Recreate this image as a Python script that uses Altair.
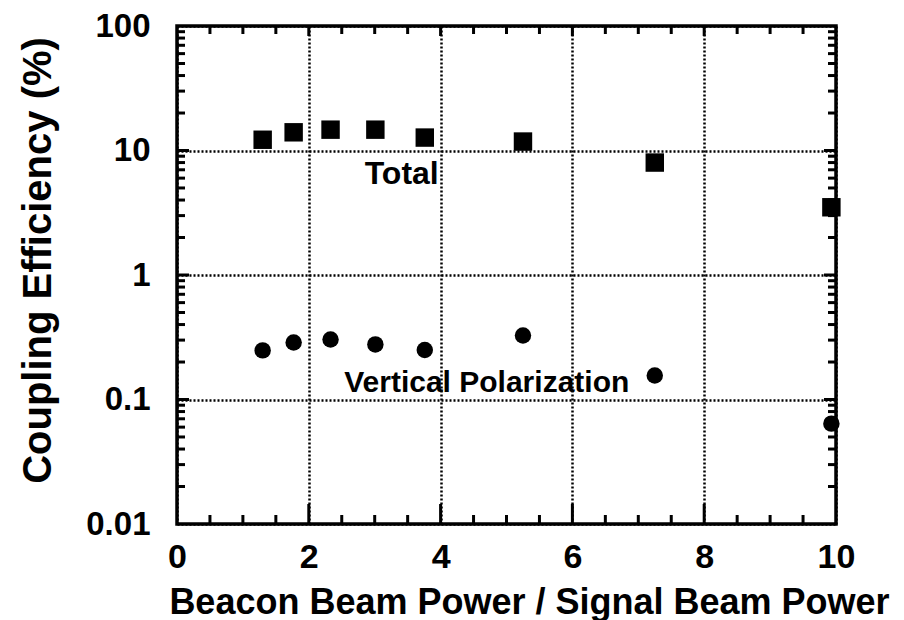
import altair as alt
import pandas as pd

# ---- data ----
ratio = [1.30, 1.77, 2.33, 3.01, 3.76, 5.25, 7.25, 9.93]
total = [12.2, 14.0, 14.7, 14.7, 12.7, 11.8, 8.0, 3.5]
vertical = [0.248, 0.287, 0.303, 0.277, 0.250, 0.327, 0.156, 0.064]

x_labels = [0, 2, 4, 6, 8, 10]
y_labels = [0.01, 0.1, 1, 10, 100]
x_major = [2, 4, 6, 8]
x_minor = [0.5, 1, 1.5, 2.5, 3, 3.5, 4.5, 5, 5.5, 6.5, 7, 7.5, 8.5, 9, 9.5]
y_major = [0.1, 1, 10]
y_minor = [0.02, 0.03, 0.04, 0.05, 0.06, 0.07, 0.08, 0.09,
           0.2, 0.3, 0.4, 0.5, 0.6, 0.7, 0.8, 0.9,
           2, 3, 4, 5, 6, 7, 8, 9,
           20, 30, 40, 50, 60, 70, 80, 90]

ann_text = ["Total", "Vertical Polarization"]
ann_x = [3.41, 4.70]
ann_y = [5.4, 0.114]
ann_size = [32, 30]

W, H = 659, 498
FONT = "Liberation Sans"

xs = alt.Scale(domain=[0, 10], nice=False, zero=False)
ys = alt.Scale(type="log", domain=[0.01, 100], nice=False)

pts = pd.DataFrame({"x": ratio, "total": total, "vertical": vertical})

xaxis = alt.Axis(values=x_labels, grid=True, gridDash=[2, 2], gridColor="black",
                 gridWidth=2.5, gridOpacity=1, ticks=False, tickSize=0, domain=False,
                 labelFont=FONT, labelFontWeight="bold", labelFontSize=34,
                 labelColor="black", labelPadding=16, labelFlush=False,
                 title="Beacon Beam Power / Signal Beam Power",
                 titleFont=FONT, titleFontWeight="bold", titleFontSize=36,
                 titleColor="black", titleX=352, titleY=89,
                 titleBaseline="alphabetic", titleAlign="center", titleAnchor="start")
yaxis = alt.Axis(values=y_labels, format="~g", grid=True, gridDash=[2, 2],
                 gridColor="black", gridWidth=2.5, gridOpacity=1, ticks=False,
                 tickSize=0, domain=False, labelFont=FONT, labelFontWeight="bold",
                 labelFontSize=33, labelColor="black", labelPadding=27,
                 labelFlush=False,
                 title="Coupling  Efficiency  (%)",
                 titleFont=FONT, titleFontWeight="bold", titleFontSize=40,
                 titleColor="black", titleX=-139, titleY=234, titleAngle=270,
                 titleBaseline="middle", titleAlign="center", titleAnchor="start")

X = lambda f: alt.X(f, scale=xs, axis=xaxis)
Y = lambda f: alt.Y(f, scale=ys, axis=yaxis)

squares = alt.Chart(pts).mark_square(size=340, color="black", opacity=1).encode(
    x=X("x:Q"), y=Y("total:Q"))
circles = alt.Chart(pts).mark_circle(size=270, color="black", opacity=1).encode(
    x=X("x:Q"), y=Y("vertical:Q"))

ann = pd.DataFrame({"t": ann_text, "x": ann_x, "y": ann_y, "s": ann_size})
labels = alt.Chart(ann).mark_text(font=FONT, fontWeight="bold", color="black",
                                  align="center", baseline="alphabetic").encode(
    x=X("x:Q"), y=Y("y:Q"), text="t:N",
    size=alt.Size("s:Q", scale=None, legend=None),
)

dxmaj = pd.DataFrame({"x": x_major})
dxmin = pd.DataFrame({"x": x_minor})
dymaj = pd.DataFrame({"y": y_major})
dymin = pd.DataFrame({"y": y_minor})

def xt(df, y0, y1):
    return alt.Chart(df).mark_rule(color="black", strokeWidth=3).encode(
        x=X("x:Q"), y=alt.value(y0), y2=alt.value(y1))

def yt(df, x0, x1):
    return alt.Chart(df).mark_rule(color="black", strokeWidth=3).encode(
        y=Y("y:Q"), x=alt.value(x0), x2=alt.value(x1))

ticks = [
    xt(dxmaj, H - 20, H), xt(dxmin, H - 9, H),
    xt(dxmaj, 0, 10), xt(dxmin, 0, 8),
    yt(dymaj, 0, 12), yt(dymin, 0, 8),
    yt(dymaj, W - 12, W), yt(dymin, W - 8, W),
]

chart = alt.layer(squares, circles, labels, *ticks).properties(
    width=W, height=H,
    background="white",
    autosize=alt.AutoSizeParams(type="none"),
    padding={"left": 169, "top": 18, "right": 60, "bottom": 96},
).configure_view(stroke="black", strokeWidth=3.5)

chart.save("out.html", embed_options={"renderer": "svg", "actions": False})
